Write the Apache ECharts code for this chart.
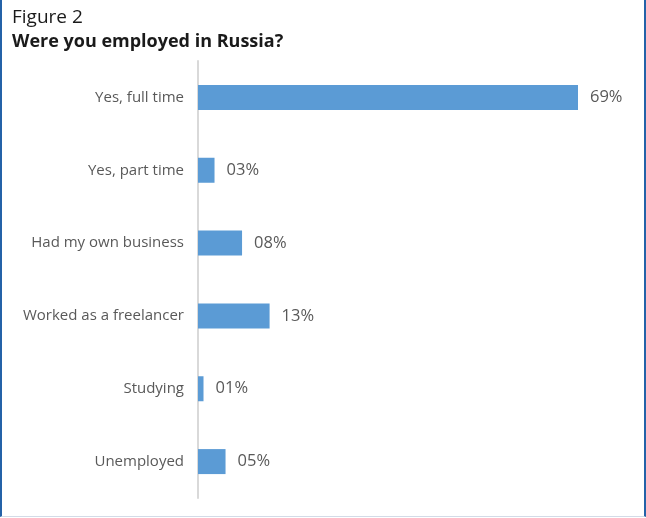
<!DOCTYPE html>
<html>
<head>
<meta charset="utf-8">
<script src="https://cdn.jsdelivr.net/npm/echarts@6/dist/echarts.min.js"></script>
<style>
  html, body { margin: 0; padding: 0; background: #fff; }
  #frame {
    position: absolute; left: 0; top: 0;
    width: 642px; height: 516px;
    border-left: 2px solid #2462a8;
    border-right: 2px solid #2462a8;
    border-bottom: 1px solid #d3dbe7;
  }
  #chart { width: 642px; height: 516px; }
</style>
</head>
<body>
<div id="frame"><div id="chart"></div></div>
<script>
// Survey answers, listed top to bottom
const categories = [
  'Yes, full time',
  'Yes, part time',
  'Had my own business',
  'Worked as a freelancer',
  'Studying',
  'Unemployed'
];
// Share of respondents, percent
const shares = [69, 3, 8, 13, 1, 5];

const chart = echarts.init(document.getElementById('chart'), null, { renderer: 'canvas' });

const fontFamily = '"Open Sans", "Noto Sans", sans-serif';

chart.setOption({
  animation: false,
  textStyle: { fontFamily },
  title: [
    {
      text: 'Figure 2',
      left: 10, top: 8, padding: 0,
      textStyle: { fontSize: 19, fontWeight: 'normal', color: '#1a1a1a', fontFamily }
    },
    {
      text: 'Were you employed in Russia?',
      left: 10, top: 33, padding: 0,
      textStyle: { fontSize: 18, fontWeight: 'bold', color: '#1a1a1a', fontFamily }
    }
  ],
  grid: { left: 196, top: 61, width: 380, height: 437, containLabel: false },
  xAxis: {
    type: 'value',
    min: 0,
    max: 69,
    show: false
  },
  yAxis: {
    type: 'category',
    inverse: true,
    data: categories,
    axisLine: { show: true, lineStyle: { color: '#d9d9d9', width: 2 } },
    axisTick: { show: false },
    axisLabel: { color: '#595959', fontSize: 15, margin: 14, fontFamily }
  },
  series: [{
    type: 'bar',
    data: shares,
    barWidth: 25,
    itemStyle: { color: '#5b9bd5' },
    label: {
      show: true,
      position: 'right',
      distance: 12,
      color: '#595959',
      fontSize: 16.5,
      fontFamily,
      formatter: p => String(p.value).padStart(2, '0') + '%'
    }
  }]
});
</script>
</body>
</html>
